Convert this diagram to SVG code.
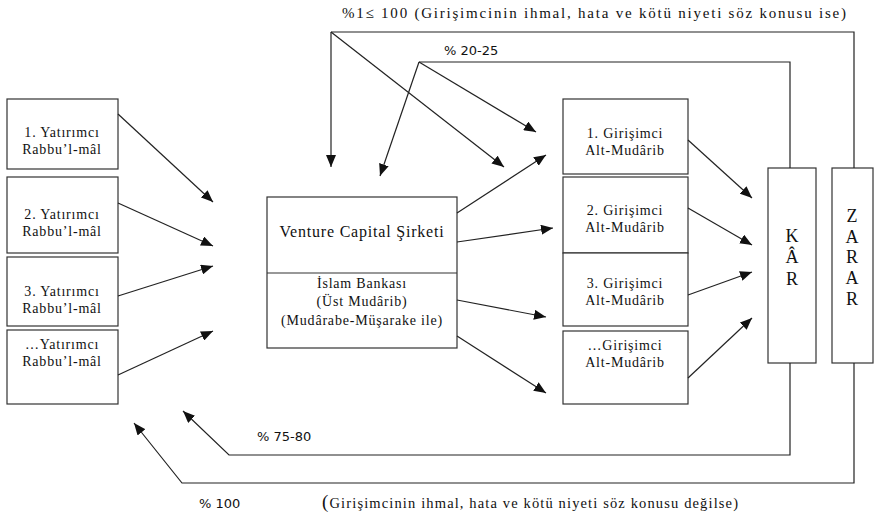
<svg xmlns="http://www.w3.org/2000/svg" width="874" height="516" viewBox="0 0 874 516">
<defs>
<marker id="ah" viewBox="0 0 12 10" refX="12" refY="5" markerWidth="12" markerHeight="10" markerUnits="userSpaceOnUse" orient="auto">
<path d="M0,0 L12,5 L0,10 Z" fill="#111"/>
</marker>
<style>
.box{fill:#fff;stroke:#333;stroke-width:1.2}
.t{font-family:"Liberation Serif","Times New Roman",serif;font-size:14px;letter-spacing:0.8px;fill:#111;text-anchor:middle}
.big{font-size:16px}
.kz{font-family:"Liberation Serif","Times New Roman",serif;font-size:18px;fill:#111;text-anchor:middle}
.s{font-family:"DejaVu Sans",Verdana,sans-serif;font-size:13px;fill:#111}
.c path{fill:none;stroke:#222;stroke-width:1.2}
.c path.a{marker-end:url(#ah)}
</style>
</defs>
<rect width="874" height="516" fill="#fff"/>

<g id="investor1"><rect class="box" x="7" y="99" width="111" height="70"/><text class="t" x="62" y="137">1. Yatırımcı</text><text class="t" x="62" y="154">Rabbu’l-mâl</text></g>
<g id="investor2"><rect class="box" x="7" y="177" width="111" height="76"/><text class="t" x="62" y="219">2. Yatırımcı</text><text class="t" x="62" y="236">Rabbu’l-mâl</text></g>
<g id="investor3"><rect class="box" x="7" y="257" width="111" height="69"/><text class="t" x="62" y="296">3. Yatırımcı</text><text class="t" x="62" y="313">Rabbu’l-mâl</text></g>
<g id="investor4"><rect class="box" x="7" y="330" width="111" height="74"/><text class="t" x="62" y="349">…Yatırımcı</text><text class="t" x="62" y="366">Rabbu’l-mâl</text></g>

<g id="vc"><rect class="box" x="267" y="197" width="190" height="151"/><line x1="267" y1="273" x2="457" y2="273" stroke="#333" stroke-width="1.2"/>
<text class="t big" x="362" y="237">Venture Capital Şirketi</text>
<text class="t" x="362" y="288">İslam Bankası</text>
<text class="t" x="362" y="306">(Üst Mudârib)</text>
<text class="t" x="362" y="325">(Mudârabe-Müşarake ile)</text></g>

<g id="entrepreneur1"><rect class="box" x="563" y="99" width="125" height="75"/><text class="t" x="625" y="138">1. Girişimci</text><text class="t" x="625" y="155">Alt-Mudârib</text></g>
<g id="entrepreneur2"><rect class="box" x="563" y="177" width="125" height="76"/><text class="t" x="625" y="215">2. Girişimci</text><text class="t" x="625" y="232">Alt-Mudârib</text></g>
<g id="entrepreneur3"><rect class="box" x="563" y="253" width="125" height="73"/><text class="t" x="625" y="288">3. Girişimci</text><text class="t" x="625" y="305">Alt-Mudârib</text></g>
<g id="entrepreneur4"><rect class="box" x="563" y="331" width="125" height="73"/><text class="t" x="625" y="350">…Girişimci</text><text class="t" x="625" y="367">Alt-Mudârib</text></g>

<g id="kar"><rect class="box" x="768" y="168" width="48" height="195"/>
<text class="kz" x="792" y="242">K</text><text class="kz" x="792" y="263">Â</text><text class="kz" x="792" y="285">R</text></g>
<g id="zarar"><rect class="box" x="832" y="168" width="41" height="195"/>
<text class="kz" x="852" y="222">Z</text><text class="kz" x="852" y="243">A</text><text class="kz" x="852" y="263">R</text><text class="kz" x="852" y="284">A</text><text class="kz" x="852" y="305">R</text></g>

<g id="connectors" class="c">
<path class="a" d="M118,114 L213,202"/>
<path class="a" d="M118,203 L213,246"/>
<path class="a" d="M118,296 L213,266"/>
<path class="a" d="M118,375 L213,331"/>
<path class="a" d="M457,213 L546,155"/>
<path class="a" d="M457,242 L553,228"/>
<path class="a" d="M457,300 L546,317"/>
<path class="a" d="M457,336 L546,393"/>
<path class="a" d="M688,140 L752,198"/>
<path class="a" d="M688,208 L752,245"/>
<path class="a" d="M688,295 L752,272"/>
<path class="a" d="M688,378 L752,318"/>
<path d="M790,168 L790,62 L419,62"/>
<path class="a" d="M419,62 L380,176"/>
<path class="a" d="M419,62 L536,132"/>
<path d="M854,168 L854,32 L331,32"/>
<path class="a" d="M331,32 L331,167"/>
<path class="a" d="M331,32 L504,167"/>
<path class="a" d="M790,363 L790,455 L229,455 L183,411"/>
<path class="a" d="M854,363 L854,483 L182,483 L134,423"/>
</g>

<g id="labels">
<text x="342" y="18" font-family="'Liberation Serif','Times New Roman',serif" font-size="15" fill="#111" textLength="504" lengthAdjust="spacing">%1≤ 100  (Girişimcinin ihmal, hata ve kötü niyeti söz konusu ise)</text>
<text class="s" x="444" y="55">% 20-25</text>
<text class="s" x="257" y="441">% 75-80</text>
<text class="s" x="199" y="508">% 100</text>
<text x="322" y="508" font-family="'Liberation Serif','Times New Roman',serif" font-size="14.5" fill="#111" textLength="416" lengthAdjust="spacing"><tspan font-size="19">(</tspan>Girişimcinin ihmal, hata ve kötü niyeti söz konusu değilse)</text>
</g>
</svg>
